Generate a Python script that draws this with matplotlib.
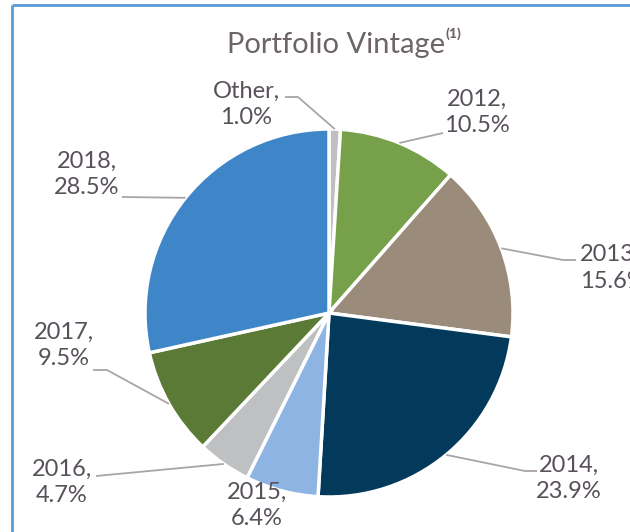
import numpy as np
import matplotlib
matplotlib.use("Agg")
import matplotlib.pyplot as plt

# data
labels = ["Other", "2012", "2013", "2014", "2015", "2016", "2017", "2018"]
shares = [1.0, 10.5, 15.6, 23.9, 6.4, 4.7, 9.5, 28.5]
colors = ["#bfbfbf", "#77a04a", "#9a8b7a", "#033a5c", "#8db4e2", "#bfc0c2", "#5a7a35", "#3f86c8"]

plt.rcParams["font.family"] = ["Lato", "DejaVu Sans"]
W, H = 630, 532
txt_color = "#58505a"
line_color = "#aaa4a8"

fig = plt.figure(figsize=(6.3, 5.32), dpi=100)
ax = fig.add_axes([0, 0, 1, 1])

cx, cy, r = 329, H - 313, 184
wedges, _ = ax.pie(shares, colors=colors, startangle=90, counterclock=False,
                   center=(cx, cy), radius=r, frame=True,
                   wedgeprops=dict(edgecolor="white", linewidth=2.5))
ax.set_xlim(0, W)
ax.set_ylim(0, H)
ax.set_aspect("equal")
ax.axis("off")

# label layout in pixel coords (from top-left): text center, alignment, leader path
layout = {
    "Other": ((246, 104), "center", [(285, 97), (298, 97)]),
    "2012": ((477, 112), "center", [(443, 133)]),
    "2013": ((580, 268), "left", [(576, 260), (563, 260)]),
    "2014": ((569, 478), "center", [(537, 471), (525, 471)]),
    "2015": ((257, 505), "center", None),
    "2016": ((62, 482), "center", [(96, 476)]),
    "2017": ((64, 345), "center", [(93, 370), (107, 370)]),
    "2018": ((87, 174), "center", [(122, 197)]),
}

for w, lab, val in zip(wedges, labels, shares):
    (tx, ty), ha, path = layout[lab]
    sep = "" if lab == "2013" else ","
    ax.text(tx, H - ty, f"{lab}{sep}\n{val:.1f}%", ha=ha, va="center",
            multialignment="center" if ha == "center" else "left",
            fontsize=17, color=txt_color, linespacing=1.3)
    if path:
        ang = np.deg2rad((w.theta1 + w.theta2) / 2)
        ex, ey = cx + r * np.cos(ang), cy + r * np.sin(ang)
        xs = [p[0] for p in path] + [ex]
        ys = [H - p[1] for p in path] + [ey]
        ax.plot(xs, ys, color=line_color, lw=1.3, solid_capstyle="butt")

# title
ax.text(336, H - 45, "Portfolio Vintage", ha="center", va="center",
        fontsize=21, color="#6d6468")
ax.text(446, H - 34, "(1)", ha="left", va="center", fontsize=10,
        fontweight="black", color="#6d6468")

# frame lines top and left
ax.plot([12, 12], [0, H - 5], color="#5b9bd5", lw=2, solid_capstyle="butt")
ax.plot([12, W], [H - 5, H - 5], color="#5b9bd5", lw=2, solid_capstyle="butt")

fig.savefig("out.png", dpi=100)
